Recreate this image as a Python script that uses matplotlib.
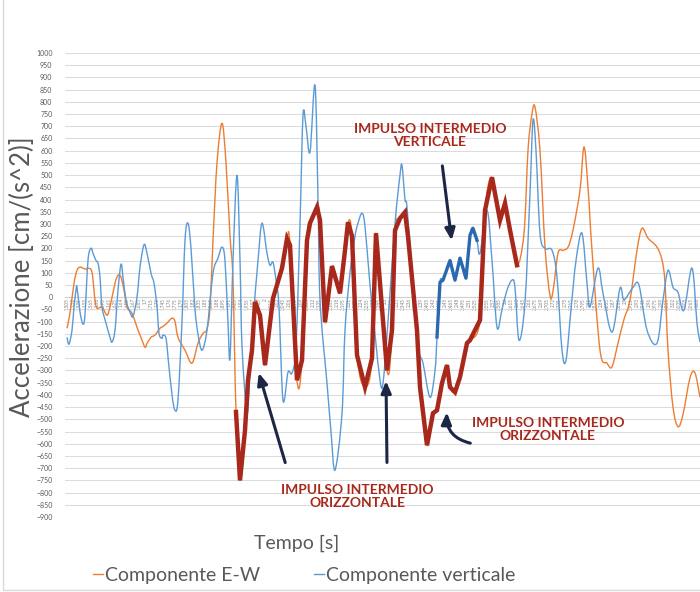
import numpy as np
import matplotlib
matplotlib.use('agg')
import matplotlib.pyplot as plt
from matplotlib.path import Path
from matplotlib.patches import PathPatch, Rectangle
from matplotlib.lines import Line2D

plt.rcParams['font.family'] = ['Lato', 'DejaVu Sans']

# componente E-W (arancione), tratto iniziale e finale
ew_left_t = [1.505, 1.5125, 1.5225, 1.53, 1.5375, 1.545, 1.5525, 1.5575, 1.5675, 1.575,
             1.58, 1.59, 1.595, 1.605, 1.6125, 1.625, 1.6325, 1.64, 1.6475, 1.655,
             1.6675, 1.68, 1.6925, 1.70, 1.705, 1.715, 1.725, 1.7375, 1.745, 1.755,
             1.7675, 1.775, 1.7825, 1.80, 1.8175, 1.8325, 1.845, 1.855, 1.8625, 1.87,
             1.88, 1.8925, 1.9025, 1.9125, 1.92]
ew_left_v = [-127, -65, 57, 110, 123, 119, 115, 119, 102, -12,
             -45, -40, -45, -74, -40, 57, 90, 82, 29, -40,
             -66, -123, -176, -205, -190, -164, -155, -127, -120, -106,
             -86, -100, -164, -217, -270, -188, -148, -130, -40, 233,
             550, 712, 550, 250, 70]

# impulso intermedio orizzontale (rosso)
imp_h_t = [1.9275, 1.9375, 1.95, 1.9575, 1.9675, 1.975, 1.9875, 2.00, 2.02, 2.0425,
           2.055, 2.0625, 2.08, 2.0925, 2.105, 2.1125, 2.13, 2.1375, 2.15, 2.1675,
           2.1875, 2.20, 2.2075, 2.2175, 2.23, 2.25, 2.2675, 2.2775, 2.305, 2.3175,
           2.325, 2.3375, 2.35, 2.3575, 2.38, 2.3875, 2.405, 2.42, 2.43, 2.4425,
           2.455, 2.4625, 2.475, 2.4875, 2.505, 2.5125, 2.5375, 2.55, 2.5675, 2.5875,
           2.6, 2.6125, 2.63]
imp_h_v = [-470, -750, -545, -340, -217, -20, -74, -278, -5, 119,
           240, 213, -340, -258, 233, 303, 369, 315, -102, 127,
           16, 192, 307, 250, -237, -368, -250, 262, -300, -135,
           274, 323, 348, 250, -135, -368, -606, -475, -463, -352,
           -278, -368, -389, -327, -188, -176, -94, 356, 491, 315,
           385, 275, 131]

ew_right_t = [2.6475, 2.6575, 2.6675, 2.675, 2.6875, 2.70, 2.7125, 2.72, 2.7325, 2.745,
              2.7575, 2.77, 2.7875, 2.7975, 2.8075, 2.8175, 2.8375, 2.855, 2.8675, 2.8825,
              2.8975, 2.9125, 2.93, 2.9425, 2.9575, 2.98, 2.9925, 3.00, 3.0075, 3.02,
              3.0325, 3.045, 3.0625, 3.075, 3.0875]
ew_right_v = [262, 602, 750, 778, 600, 205, 8, 25, 180, 192,
              205, 275, 438, 615, 450, 192, -217, -270, -285, -188,
              -90, -12, 192, 282, 242, 205, 152, 57, -217, -450,
              -530, -480, -330, -310, -410]

# componente verticale (blu)
vert_t = [1.505, 1.51, 1.5175, 1.5225, 1.5275, 1.53, 1.5375, 1.545, 1.55, 1.5575,
          1.565, 1.57, 1.5775, 1.5825, 1.5875, 1.5925, 1.6025, 1.6125, 1.6175, 1.625,
          1.6325, 1.64, 1.645, 1.6525, 1.6625, 1.67, 1.68, 1.6875, 1.6975, 1.705,
          1.715, 1.7225, 1.73, 1.735, 1.7425, 1.745, 1.7525, 1.7575, 1.7675, 1.775,
          1.7825, 1.7925, 1.80, 1.8075, 1.815, 1.825, 1.8325, 1.8425, 1.855, 1.87,
          1.8825, 1.8925, 1.90, 1.9075, 1.9125, 1.92, 1.93, 1.9375, 1.9425, 1.955,
          1.9625, 1.97, 1.9825, 1.9925, 2.005, 2.0125, 2.02, 2.0275, 2.035, 2.045,
          2.0575, 2.0675, 2.0775, 2.0875, 2.095, 2.1025, 2.1125, 2.125, 2.1325, 2.1375,
          2.155, 2.165, 2.175, 2.1925, 2.20, 2.2125, 2.225, 2.2325, 2.2425, 2.25,
          2.2625, 2.275, 2.2875, 2.295, 2.3075, 2.325, 2.3375, 2.3425, 2.35, 2.355,
          2.3675, 2.3825, 2.395, 2.4125, 2.425, 2.43, 2.4375, 2.445, 2.4625, 2.475,
          2.4875, 2.5025, 2.5125, 2.52, 2.53, 2.5375, 2.555, 2.5675, 2.58, 2.5925,
          2.605, 2.6175, 2.625, 2.635, 2.65, 2.6625, 2.67, 2.6775, 2.6875, 2.70,
          2.7175, 2.73, 2.7425, 2.7525, 2.765, 2.7775, 2.7925, 2.805, 2.8125, 2.8325,
          2.845, 2.8675, 2.8875, 2.8975, 2.92, 2.935, 2.955, 2.98, 2.995, 3.0075,
          3.02, 3.0325, 3.0475, 3.0675, 3.08, 3.0875]
vert_v = [-164, -192, -135, -40, 29, 41, -61, -110, -70, 152,
          200, 180, 150, 140, 82, -40, -106, -164, -184, -135,
          29, 135, 82, -12, -61, -78, 0, 123, 215, 180,
          98, 57, -40, -148, -168, -155, -168, -245, -400, -463,
          -420, -100, 233, 303, 200, -50, -150, -217, -135, 98,
          160, 205, 150, -106, -250, 150, 500, 150, -200, -475,
          -300, -100, 150, 303, 180, 131, 143, 70, -40, -422,
          -307, -310, -200, 300, 745, 700, 594, 868, 400, -10,
          -352, -550, -708, -475, -135, 100, 250, 303, 344, 290,
          50, -150, -340, -352, -100, 300, 500, 540, 400, 370,
          100, -200, -270, -410, -300, -163, 61, 70, 150, 70,
          160, 78, 254, 282, 233, 180, 356, 150, -123, -50,
          29, 70, 40, -176, -20, 426, 725, 600, 262, 200,
          192, 82, -217, -258, -50, 150, 262, 57, -40, 119,
          16, -143, 37, -10, 40, 49, -135, -188, -12, 110,
          41, 20, -53, 119, -106, -184]
imp_v_start, imp_v_end = 2.43, 2.53   # impulso intermedio verticale

# etichette asse tempi
tick_t = np.round(np.arange(1.505, 3.09, 0.015), 3)

ew_t = ew_left_t + imp_h_t + ew_right_t
ew_v = ew_left_v + imp_h_v + ew_right_v

ORANGE = '#ED7D31'
BLUE = '#5B9BD5'
RED = '#A8291C'
DBLUE = '#2A69B0'
NAVY = '#1C2745'
GREY = '#595959'


def smooth(ax, t, v, **kw):
    # curva liscia tipo Excel (Bezier cubiche)
    p = np.column_stack([t, v]).astype(float)
    ext = np.vstack([p[0], p, p[-1]])
    verts = [p[0]]
    codes = [Path.MOVETO]
    for i in range(len(p) - 1):
        c1 = ext[i + 1] + (ext[i + 2] - ext[i]) / 6
        c2 = ext[i + 2] - (ext[i + 3] - ext[i + 1]) / 6
        verts += [c1, c2, ext[i + 2]]
        codes += [Path.CURVE4] * 3
    ax.add_patch(PathPatch(Path(verts, codes), fill=False, **kw))


fig = plt.figure(figsize=(7, 5.92), dpi=100)
fig.patches.append(Rectangle((3 / 700, 2 / 592), 1.1, 1.1, transform=fig.transFigure,
                             fill=False, edgecolor='#d9d9d9', lw=1))
ax = fig.add_axes([65 / 700, 75 / 592, 635 / 700, 464 / 592])
ax.set_xlim(1.5, 3.0875)
ax.set_ylim(-900, 1000)
ax.set_yticks(np.arange(-900, 1001, 50))
ax.grid(axis='y', color='#dcdcdc', lw=0.8)
ax.set_axisbelow(True)
for s in ['top', 'right', 'left']:
    ax.spines[s].set_visible(False)
ax.spines['bottom'].set_position(('data', 0))
ax.spines['bottom'].set_color('#d0d0d0')
ax.set_xticks(tick_t)
ax.set_xticklabels([f'{x:g}' for x in tick_t], rotation=90, fontsize=3.3, color='#808080')
ax.tick_params(axis='x', length=0, pad=0.5)
ax.tick_params(axis='y', length=0, labelsize=5, labelcolor=GREY, pad=9)

smooth(ax, ew_t, ew_v, edgecolor=ORANGE, lw=1.0, zorder=3)
smooth(ax, vert_t, vert_v, edgecolor=BLUE, lw=1.0, zorder=3)
ax.plot(imp_h_t, imp_h_v, color=RED, lw=3.2, solid_joinstyle='miter', zorder=5)
vt = np.array(vert_t)
sel = (vt >= imp_v_start) & (vt <= imp_v_end)
ax.plot(vt[sel], np.array(vert_v)[sel], color=DBLUE, lw=2.4, zorder=5)

tkw = dict(color=RED, fontsize=10, fontweight='bold', ha='center', va='center',
           linespacing=1.1, zorder=6)
ax.text(2.4125, 663, 'IMPULSO INTERMEDIO\nVERTICALE', **tkw)
ax.text(2.7075, -540, 'IMPULSO INTERMEDIO\nORIZZONTALE', **tkw)
ax.text(2.23, -815, 'IMPULSO INTERMEDIO\nORIZZONTALE', **tkw)

akw = dict(arrowstyle='-|>,head_length=0.7,head_width=0.3', color=NAVY, lw=2.2)
ax.annotate('', xy=(2.4675, 221), xytext=(2.4425, 549), arrowprops=akw, zorder=6)
ax.annotate('', xy=(1.9825, -299), xytext=(2.0525, -688), arrowprops=akw, zorder=6)
ax.annotate('', xy=(2.3025, -332), xytext=(2.305, -688), arrowprops=akw, zorder=6)
ax.annotate('', xy=(2.455, -460), xytext=(2.52, -600),
            arrowprops=dict(akw, connectionstyle='arc3,rad=-0.45'), zorder=6)

fig.text(22 / 700, 1 - 277 / 592, 'Accelerazione [cm/(s^2)]', rotation=90,
         ha='center', va='center', fontsize=18.5, color=GREY)
fig.text(297 / 700, 1 - 543 / 592, 'Tempo [s]', ha='center', va='center',
         fontsize=14, color=GREY)
handles = [Line2D([], [], color=ORANGE, lw=1.0), Line2D([], [], color=BLUE, lw=1.0)]
fig.legend(handles, ['Componente E-W', 'Componente verticale'], loc='center',
           bbox_to_anchor=(304 / 700, 1 - 575 / 592), ncol=2, frameon=False,
           fontsize=14, handlelength=0.5, handletextpad=0.1, columnspacing=2.8,
           labelcolor=GREY)

fig.savefig('out.png', dpi=100)
